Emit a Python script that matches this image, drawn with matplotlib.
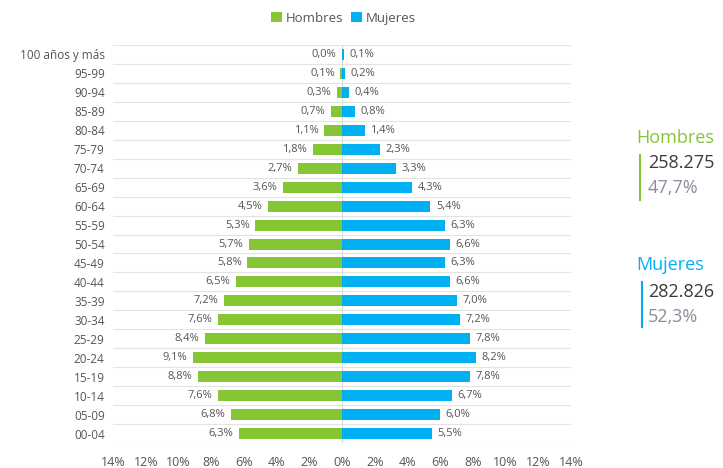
import numpy as np
import matplotlib.pyplot as plt

# Datos de la pirámide
grupos = ['100 años y más', '95-99', '90-94', '85-89', '80-84', '75-79', '70-74',
          '65-69', '60-64', '55-59', '50-54', '45-49', '40-44', '35-39', '30-34',
          '25-29', '20-24', '15-19', '10-14', '05-09', '00-04']
hombres = [0.0, 0.1, 0.3, 0.7, 1.1, 1.8, 2.7, 3.6, 4.5, 5.3, 5.7, 5.8, 6.5, 7.2,
           7.6, 8.4, 9.1, 8.8, 7.6, 6.8, 6.3]
mujeres = [0.1, 0.2, 0.4, 0.8, 1.4, 2.3, 3.3, 4.3, 5.4, 6.3, 6.6, 6.3, 6.6, 7.0,
           7.2, 7.8, 8.2, 7.8, 6.7, 6.0, 5.5]
ticks = [-14, -12, -10, -8, -6, -4, -2, 0, 2, 4, 6, 8, 10, 12, 14]
total_h, pct_h = '258.275', '47,7%'
total_m, pct_m = '282.826', '52,3%'

verde = '#84C634'
azul = '#00B0F0'
gris = '#555555'

plt.rcParams['font.family'] = ['Open Sans', 'DejaVu Sans']

fig = plt.figure(figsize=(7.23, 4.68), dpi=100)
ax = fig.add_axes([0.1563, 0.0534, 0.6335, 0.8504])

y = np.arange(len(grupos))
ax.barh(y, [-v for v in hombres], height=0.58, color=verde, label='Hombres', zorder=3)
ax.barh(y, mujeres, height=0.58, color=azul, label='Mujeres', zorder=3)

# Etiquetas de valores
for yi, h, m in zip(y, hombres, mujeres):
    ax.annotate(f'{h:.1f}%'.replace('.', ','), (-h, yi), xytext=(-4, 0),
                textcoords='offset points', ha='right', va='center',
                fontsize=8, color=gris)
    ax.annotate(f'{m:.1f}%'.replace('.', ','), (m, yi), xytext=(4, 0),
                textcoords='offset points', ha='left', va='center',
                fontsize=8, color=gris)

# Líneas de cuadrícula horizontales entre filas
for g in np.arange(-0.5, len(grupos), 1.0):
    ax.axhline(g, color='#e3e3e3', lw=0.8, zorder=1)
ax.axvline(0, color='#d9d9d9', lw=0.8, zorder=1)

ax.set_xlim(-14, 14)
ax.set_ylim(len(grupos) - 0.5, -0.5)
ax.set_xticks(ticks)
ax.set_xticklabels([f'{abs(t)}%' for t in ticks], fontsize=9, color=gris)
ax.set_yticks(y)
ax.set_yticklabels(grupos, fontsize=8.5, color=gris)
ax.tick_params(axis='both', length=0)
ax.tick_params(axis='x', pad=9)
ax.tick_params(axis='y', pad=6)
for s in ax.spines.values():
    s.set_visible(False)

fig.legend(loc='upper center', bbox_to_anchor=(0.475, 1.0), ncol=2, frameon=False,
           fontsize=9.5, handlelength=0.8, handleheight=0.8, handletextpad=0.3,
           columnspacing=0.6, labelcolor=gris)

# Totales a la derecha
fig.text(636 / 723, 1 - 138 / 468, 'Hombres', color=verde, fontsize=13, va='center')
fig.text(648 / 723, 1 - 163 / 468, total_h, color='#3a3a3a', fontsize=13, va='center')
fig.text(648 / 723, 1 - 188 / 468, pct_h, color='#8a8c9c', fontsize=13, va='center')
fig.add_artist(plt.Line2D([640 / 723, 640 / 723], [1 - 155 / 468, 1 - 200 / 468],
                          color=verde, lw=1.5))

fig.text(636 / 723, 1 - 265 / 468, 'Mujeres', color=azul, fontsize=13, va='center')
fig.text(648 / 723, 1 - 292 / 468, total_m, color='#3a3a3a', fontsize=13, va='center')
fig.text(648 / 723, 1 - 317 / 468, pct_m, color='#8a8c9c', fontsize=13, va='center')
fig.add_artist(plt.Line2D([642 / 723, 642 / 723], [1 - 282 / 468, 1 - 327 / 468],
                          color=azul, lw=1.5))

fig.savefig('out.png', dpi=100)
